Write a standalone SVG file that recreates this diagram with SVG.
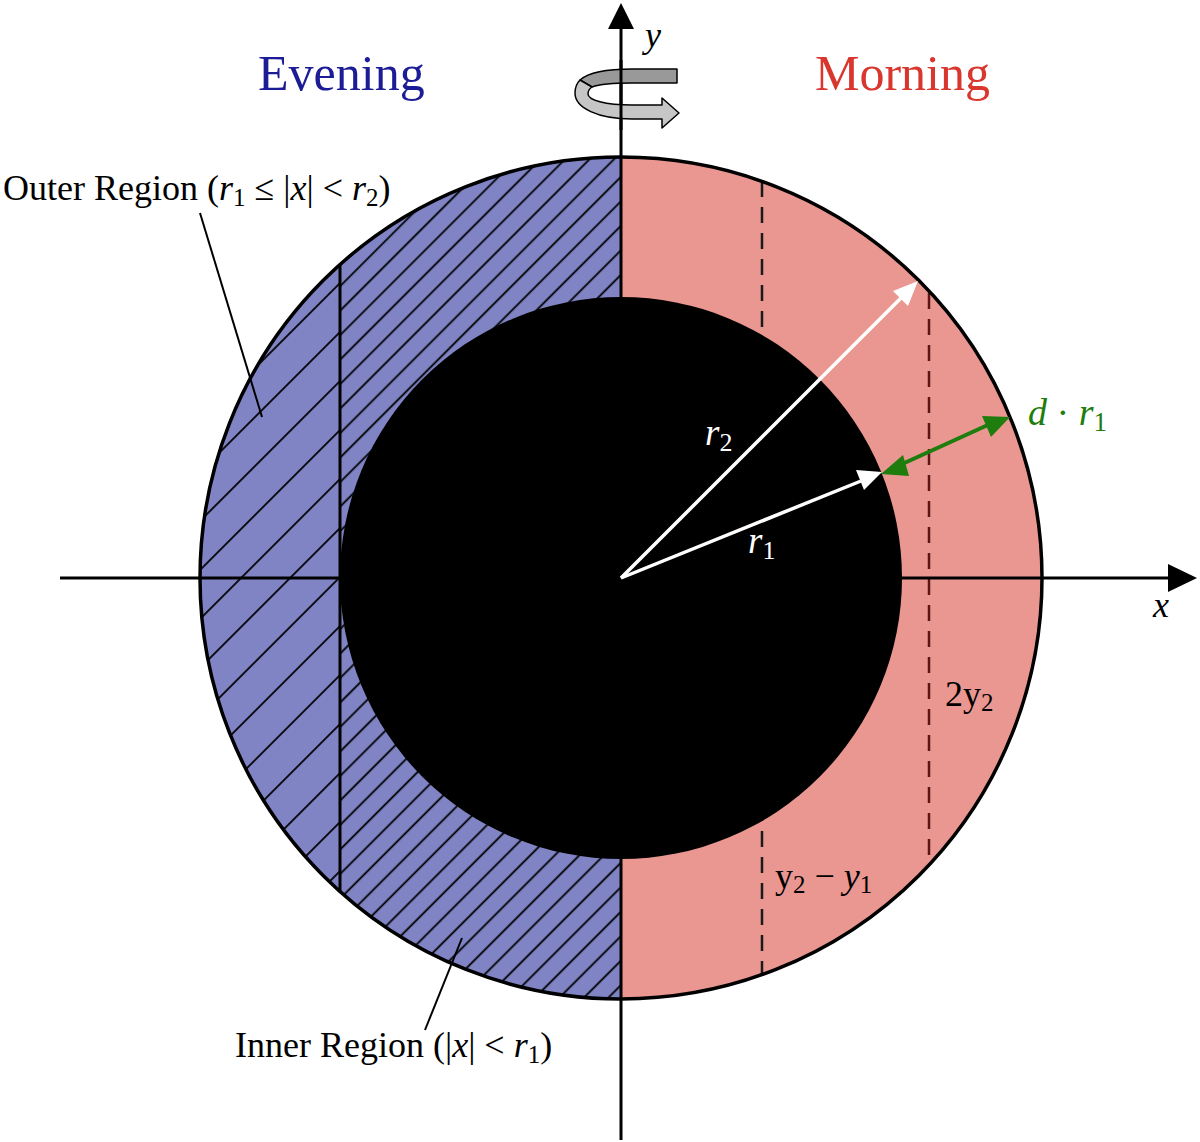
<svg xmlns="http://www.w3.org/2000/svg" width="1200" height="1142" viewBox="0 0 1200 1142">
<style>
.t{font-family:"Liberation Serif","Times New Roman",serif;}
.it{font-style:italic;}
.ax{stroke:#000;stroke-width:3;fill:none;}
.lead{stroke:#000;stroke-width:2;fill:none;}
.dash{stroke-width:2.5;stroke-dasharray:16 10;fill:none;}
</style>
<defs>
<clipPath id="cpOuterL"><path d="M621,157 A421,421 0 0 0 621,999 Z"/></clipPath>
<clipPath id="cpInnerL"><rect x="340" y="150" width="281" height="860"/></clipPath>
<clipPath id="cpOuterStrip"><rect x="195" y="150" width="145" height="860"/></clipPath>
<pattern id="hatchDense" patternUnits="userSpaceOnUse" width="20" height="17.32" patternTransform="rotate(-45)">
<rect x="0" y="9.0" width="20" height="1.8" fill="#000"/>
</pattern>
<pattern id="hatchWide" patternUnits="userSpaceOnUse" width="20" height="34.65" patternTransform="rotate(-45)">
<rect x="0" y="23.85" width="20" height="1.8" fill="#000"/>
</pattern>
</defs>

<g id="disc">
<path d="M621,157 A421,421 0 0 0 621,999 Z" fill="#8084c4"/>
<path d="M621,157 A421,421 0 0 1 621,999 Z" fill="#ea9791"/>
<g clip-path="url(#cpOuterL)">
<rect x="340" y="150" width="281" height="860" fill="url(#hatchDense)"/>
<rect x="195" y="150" width="145" height="860" fill="url(#hatchWide)"/>
</g>
<line x1="340" y1="265" x2="340" y2="892" class="ax" stroke-width="2.5"/>
<line x1="762" y1="181" x2="762" y2="975" class="dash" stroke="#1a1a1a"/>
<line x1="929" y1="293" x2="929" y2="863" class="dash" stroke="#5e1515"/>
<circle id="inner-core" cx="621" cy="578" r="281" fill="#000"/>
</g>

<g id="axes">
<line x1="60" y1="578" x2="1170" y2="578" class="ax"/>
<polygon points="1168,564 1197,578 1168,592" fill="#000"/>
<line x1="621" y1="1140" x2="621" y2="26" class="ax"/>
<polygon points="608,29 621,3 634,29" fill="#000"/>
<text x="645" y="47" class="t it" font-size="36">y</text>
<text x="1153" y="617" class="t it" font-size="36">x</text>
</g>

<g id="outer-circle">
<circle cx="621" cy="578" r="421" fill="none" stroke="#000" stroke-width="3.5"/>
</g>

<g id="rotation">
<path d="M677,69 L632,69 C605,69 588,73 580,80 L592,87 C600,84 612,83 632,83 L677,83 Z" fill="#999" stroke="#000" stroke-width="1.5" stroke-linejoin="round"/>
<path d="M580,80 C576,84 575,88 575,93 C575,108 598,119 632,119 L662,119 L662,128 L679,113 L662,98 L662,105 L632,105 C605,105 588,100 588,94 C588,91 589,89 592,87 Z" fill="#c6c6c6" stroke="#000" stroke-width="1.5" stroke-linejoin="round"/>
<line x1="621" y1="60" x2="621" y2="130" class="ax"/>
</g>

<g id="radii">
<line x1="621" y1="578" x2="901" y2="298" stroke="#fff" stroke-width="3.5"/>
<polygon points="918,281 908,306 893,291" fill="#fff"/>
<line x1="621" y1="578" x2="861" y2="481" stroke="#fff" stroke-width="3.5"/>
<polygon points="882,472 864,490 856,470" fill="#fff"/>
<text x="705" y="445" class="t it" font-size="37" fill="#fff">r<tspan font-size="26" dy="6" font-style="normal">2</tspan></text>
<text x="748" y="553" class="t it" font-size="37" fill="#fff">r<tspan font-size="26" dy="6" font-style="normal">1</tspan></text>
</g>

<g id="thickness">
<line x1="900" y1="465" x2="990" y2="424" stroke="#1e7d0c" stroke-width="4"/>
<polygon points="881,474 903,455 909,476" fill="#1e7d0c"/>
<polygon points="1010,417 982,416 991,437" fill="#1e7d0c"/>
<text x="1028" y="425" class="t" font-size="38" fill="#1e7d0c"><tspan class="it">d</tspan> · <tspan class="it">r</tspan><tspan font-size="27" dy="6">1</tspan></text>
</g>

<g id="titles">
<text x="258" y="90" class="t" font-size="50" fill="#1c1c96">Evening</text>
<text x="815" y="90" class="t" font-size="50" fill="#d9362e">Morning</text>
</g>

<g id="outer-label">
<line x1="200" y1="213" x2="262" y2="417" class="lead"/>
<text x="3" y="200" class="t" font-size="36">Outer Region (<tspan class="it">r</tspan><tspan font-size="25" dy="6">1</tspan><tspan dy="-6"> ≤ |</tspan><tspan class="it">x</tspan>| &lt; <tspan class="it">r</tspan><tspan font-size="25" dy="6">2</tspan><tspan dy="-6">)</tspan></text>
</g>

<g id="inner-label">
<line x1="425" y1="1030" x2="462" y2="938" class="lead"/>
<text x="235" y="1057" class="t" font-size="36">Inner Region (|<tspan class="it">x</tspan>| &lt; <tspan class="it">r</tspan><tspan font-size="25" dy="6">1</tspan><tspan dy="-6">)</tspan></text>
</g>

<g id="chord-labels">
<text x="945" y="706" class="t" font-size="36">2y<tspan font-size="25" dy="5">2</tspan></text>
<text x="775" y="888" class="t" font-size="36">y<tspan font-size="25" dy="5">2</tspan><tspan dy="-5"> − </tspan><tspan class="it">y</tspan><tspan font-size="25" dy="5">1</tspan></text>
</g>
</svg>
